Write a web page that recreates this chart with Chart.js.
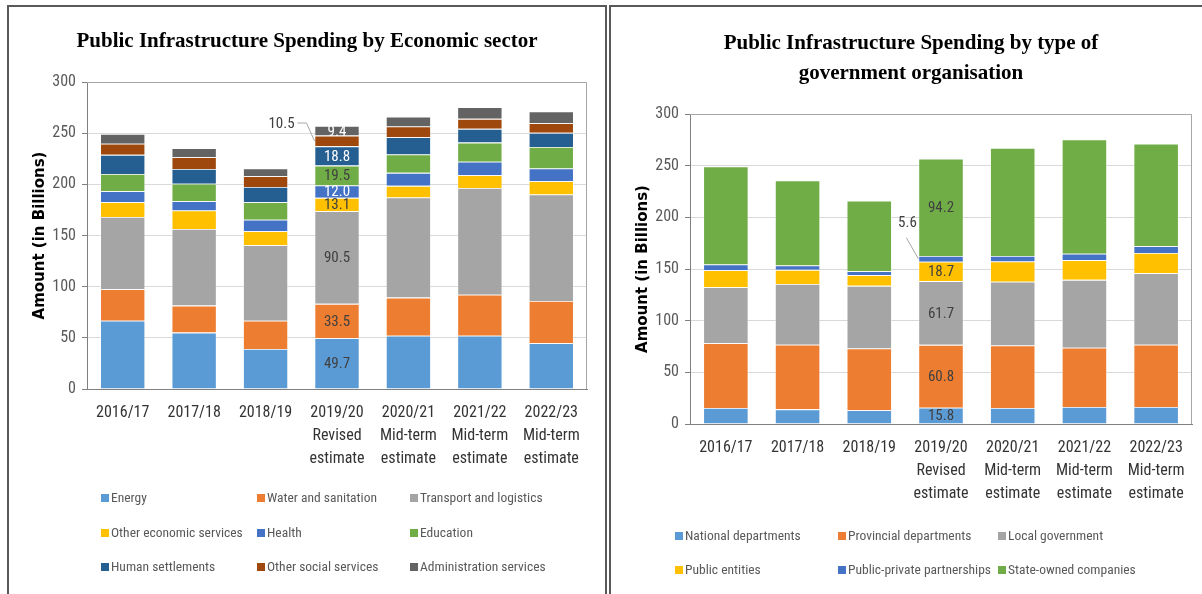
<!DOCTYPE html>
<html>
<head>
<meta charset="utf-8">
<script src="https://cdn.jsdelivr.net/npm/chart.js@4.4.1/dist/chart.umd.min.js"></script>
<style>
  html, body { margin: 0; padding: 0; background: #fff; }
  body { width: 1202px; height: 594px; position: relative; overflow: hidden; }
  .panel { position: absolute; top: 5px; box-sizing: border-box; border-top: 2.5px solid #595959; }
  #panelLeft { left: 7px; width: 600px; height: 600px; border-left: 2.5px solid #595959; border-right: 2.5px solid #595959; }
  #panelRight { left: 609px; width: 600px; height: 600px; border-left: 2.5px solid #595959; }
  canvas { position: absolute; }
  #sector { left: 10px; top: 8px; }
  #organisation { left: 612px; top: 8px; }
</style>
</head>
<body>
<div class="panel" id="panelLeft"></div>
<div class="panel" id="panelRight"></div>
<canvas id="sector" width="594" height="586"></canvas>
<canvas id="organisation" width="590" height="586"></canvas>
<script>
// Financial years (multi-line tick labels)
const categories = [
  ['2016/17'],
  ['2017/18'],
  ['2018/19'],
  ['2019/20', 'Revised', 'estimate'],
  ['2020/21', 'Mid-term', 'estimate'],
  ['2021/22', 'Mid-term', 'estimate'],
  ['2022/23', 'Mid-term', 'estimate']
];
const yTicks = [0, 50, 100, 150, 200, 250, 300];

// Spending by economic sector (R billion)
const energy           = [66.8, 55.1, 39.1, 49.7, 52.1, 52.1, 44.7];
const waterSanitation  = [30.7, 26.4, 27.7, 33.5, 37.2, 40.1, 41.3];
const transport        = [70.7, 74.9, 73.7, 90.5, 97.8, 104.3, 104.0];
const otherEconomic    = [14.3, 18.0, 13.7, 13.1, 11.4, 12.4, 13.0];
const health           = [10.8, 9.1, 11.3, 12.0, 12.7, 13.1, 12.4];
const education        = [16.9, 17.0, 17.0, 19.5, 17.9, 18.8, 21.2];
const humanSettlements = [18.6, 14.6, 15.0, 18.8, 17.0, 13.4, 13.7];
const otherSocial      = [10.8, 11.4, 10.5, 10.5, 10.4, 9.8, 9.5];
const administration   = [9.7, 8.8, 7.4, 9.4, 9.5, 11.4, 11.3];

// Spending by type of government organisation (R billion)
const nationalDepts    = [15.5, 14.2, 13.3, 15.8, 15.5, 16.5, 16.5];
const provincialDepts  = [62.7, 62.6, 59.7, 60.8, 60.4, 57.4, 60.3];
const localGovernment  = [54.2, 58.8, 60.7, 61.7, 61.7, 65.6, 69.2];
const publicEntities   = [16.5, 13.6, 10.3, 18.7, 19.6, 19.1, 19.6];
const ppps             = [5.4, 4.2, 3.9, 5.6, 5.5, 6.1, 6.5];
const stateOwned       = [95.0, 82.3, 68.1, 94.2, 104.4, 110.7, 99.1];

// Year whose segments carry value labels (2019/20)
const labelledIndex = 3;

const SANS = "'Liberation Sans Narrow', 'Arial Narrow', 'Roboto Condensed', 'Liberation Sans', sans-serif";
const SERIF = "'Liberation Serif', 'Times New Roman', serif";

function ds(label, data, color, labelColor, callout) {
  return {
    label, data,
    backgroundColor: color,
    borderColor: 'rgba(255,255,255,0.55)',
    borderWidth: 0.8,
    borderSkipped: 'start',
    barPercentage: 0.63,
    categoryPercentage: 1,
    labelColor: labelColor || '#404040',
    callout: !!callout
  };
}

// Plot-area frame (top and right edges) drawn over the grid
const plotFrame = {
  id: 'plotFrame',
  beforeDatasetsDraw(chart) {
    const {ctx, chartArea: a} = chart;
    ctx.save();
    ctx.strokeStyle = '#a6a6a6';
    ctx.lineWidth = 1;
    ctx.beginPath();
    ctx.moveTo(a.left, a.top + 0.5);
    ctx.lineTo(a.right - 0.5, a.top + 0.5);
    ctx.lineTo(a.right - 0.5, a.bottom);
    ctx.stroke();
    ctx.restore();
  }
};

// Value labels for one year's stacked segments
const segmentLabels = {
  id: 'segmentLabels',
  afterDatasetsDraw(chart, args, opts) {
    const {ctx} = chart;
    const idx = opts.index;
    ctx.save();
    ctx.font = `15px ${SANS}`;
    ctx.textAlign = 'center';
    ctx.textBaseline = 'middle';
    chart.data.datasets.forEach((d, i) => {
      const bar = chart.getDatasetMeta(i).data[idx];
      if (!bar) return;
      const text = d.data[idx].toFixed(1);
      const mid = (bar.y + bar.base) / 2;
      if (d.callout) {
        const left = bar.x - bar.width / 2;
        const c = opts.callout;
        ctx.strokeStyle = '#a6a6a6';
        ctx.lineWidth = 1;
        ctx.beginPath();
        c.path.forEach((p, k) => {
          const px = left + p[0], py = mid + p[1];
          if (k === 0) ctx.moveTo(px, py); else ctx.lineTo(px, py);
        });
        ctx.stroke();
        ctx.fillStyle = '#404040';
        ctx.fillText(text, left + c.text[0], mid + c.text[1]);
      } else {
        ctx.fillStyle = d.labelColor;
        ctx.fillText(text, bar.x, mid + 1);
      }
    });
    ctx.restore();
  }
};

// Legend laid out in a fixed grid of columns and rows
const gridLegend = {
  id: 'gridLegend',
  afterDraw(chart, args, opts) {
    const {ctx, chartArea: a} = chart;
    const cols = opts.columns.length;
    ctx.save();
    ctx.font = `13.5px ${SANS}`;
    ctx.textAlign = 'left';
    ctx.textBaseline = 'middle';
    chart.data.datasets.forEach((d, i) => {
      const x = a.left + opts.columns[i % cols];
      const y = a.bottom + opts.rows[Math.floor(i / cols)];
      ctx.fillStyle = d.backgroundColor;
      ctx.fillRect(x, y - 4, 8, 8);
      ctx.fillStyle = '#595959';
      ctx.fillText(d.label, x + 10, y + 1);
    });
    ctx.restore();
  }
};

function makeOptions(cfg) {
  return {
    responsive: false,
    animation: false,
    layout: { padding: cfg.padding },
    plugins: {
      legend: { display: false },
      tooltip: { enabled: false },
      title: {
        display: true,
        text: cfg.title,
        color: '#000',
        font: { family: SERIF, size: 21, weight: 'bold', lineHeight: 30 / 21 },
        padding: cfg.titlePadding
      },
      segmentLabels: { index: labelledIndex, callout: cfg.callout },
      gridLegend: cfg.legend
    },
    scales: {
      x: {
        stacked: true,
        grid: { display: false, drawTicks: false },
        border: { color: '#808080', width: 1 },
        ticks: {
          color: '#333',
          font: { family: SANS, size: 16, lineHeight: 23 / 16 },
          padding: 12,
          maxRotation: 0,
          autoSkip: false
        },
        afterFit(s) { s.height = 100; }
      },
      y: {
        stacked: true,
        min: yTicks[0],
        max: yTicks[yTicks.length - 1],
        afterBuildTicks(s) { s.ticks = yTicks.map(v => ({ value: v })); },
        ticks: { color: '#595959', font: { family: SANS, size: 16 }, padding: 6 },
        grid: { color: '#d9d9d9', tickColor: '#808080', tickLength: 5 },
        border: { color: '#808080', width: 1 },
        title: {
          display: true,
          text: 'Amount (in Billions)',
          color: '#000',
          font: { family: "'DejaVu Sans', sans-serif", size: 15, weight: 'bold' },
          padding: { top: cfg.yTitleGap, bottom: 0 }
        },
        afterFit(s) { s.width = 60; }
      }
    }
  };
}

new Chart(document.getElementById('sector'), {
  type: 'bar',
  data: {
    labels: categories,
    datasets: [
      ds('Energy', energy, '#5B9BD5'),
      ds('Water and sanitation', waterSanitation, '#ED7D31'),
      ds('Transport and logistics', transport, '#A5A5A5'),
      ds('Other economic services', otherEconomic, '#FFC000'),
      ds('Health', health, '#4472C4', '#ffffff'),
      ds('Education', education, '#70AD47'),
      ds('Human settlements', humanSettlements, '#255E91', '#ffffff'),
      ds('Other social services', otherSocial, '#9E480E', '#ffffff', true),
      ds('Administration services', administration, '#636363', '#ffffff')
    ]
  },
  options: makeOptions({
    title: 'Public Infrastructure Spending by Economic sector',
    padding: { left: 17, right: 17, top: 0, bottom: 105 },
    titlePadding: { top: 19, bottom: 25 },
    yTitleGap: 4,
    callout: { text: [-33, -17], path: [[-17, -18], [-8, -18], [0, 0]] },
    legend: { columns: [14, 170, 323], rows: [109, 144, 178] }
  }),
  plugins: [plotFrame, segmentLabels, gridLegend]
});

new Chart(document.getElementById('organisation'), {
  type: 'bar',
  data: {
    labels: categories,
    datasets: [
      ds('National departments', nationalDepts, '#5B9BD5'),
      ds('Provincial departments', provincialDepts, '#ED7D31'),
      ds('Local government', localGovernment, '#A5A5A5'),
      ds('Public entities', publicEntities, '#FFC000'),
      ds('Public-private partnerships', ppps, '#4472C4', '#404040', true),
      ds('State-owned companies', stateOwned, '#70AD47')
    ]
  },
  options: makeOptions({
    title: ['Public Infrastructure Spending by type of', 'government organisation'],
    padding: { left: 18, right: 10, top: 0, bottom: 70 },
    titlePadding: { top: 21, bottom: 25 },
    yTitleGap: 4,
    callout: { text: [-11, -36], path: [[-12, -21], [0, 0]] },
    legend: { columns: [-15, 148, 308], rows: [112, 146] }
  }),
  plugins: [plotFrame, segmentLabels, gridLegend]
});
</script>
</body>
</html>
